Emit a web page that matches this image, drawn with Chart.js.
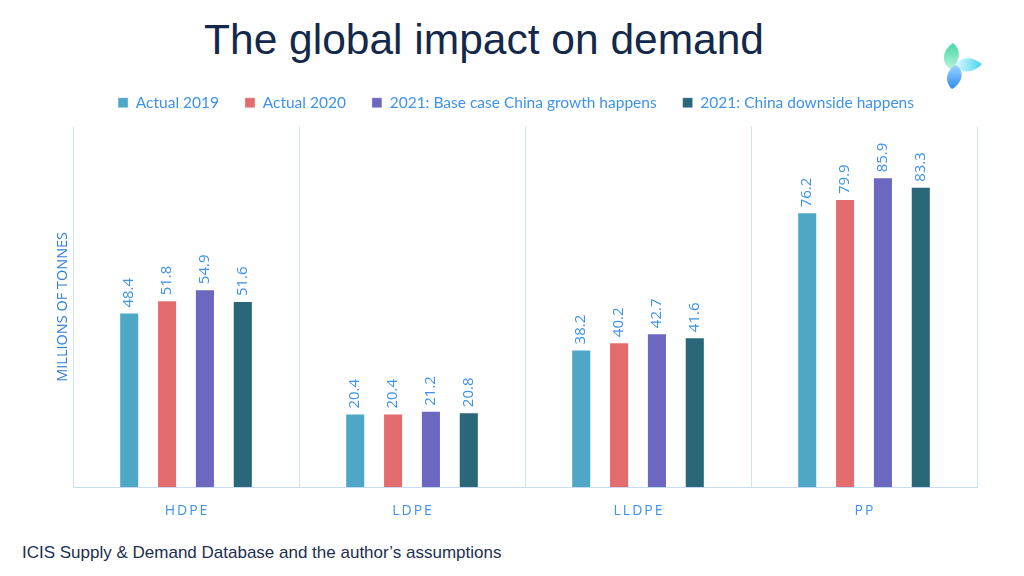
<!DOCTYPE html>
<html lang="en">
<head>
    <meta charset="UTF-8">
    <title>The global impact on demand</title>
    <style>
        body { margin: 0; background: #fff; }
        #app { position: relative; width: 1024px; height: 576px; overflow: hidden; font-family: "Liberation Sans", Arial, sans-serif; }
        .header { position: absolute; left: 0; width: 968px; top: 16px; text-align: center; font-size: 42.5px; color: #14284b; }
        .logo { position: absolute; left: 930px; top: 32px; }
        .source { position: absolute; left: 22px; top: 543px; font-size: 17px; color: #1c2f4f; }
        .chart { position: absolute; left: 0; top: 62px; width: 1024px; height: 474px; }
    </style>
</head>
<body>
    <div id="app">
        <div class="header">The global impact on demand</div>
        <svg class="logo" width="60" height="60" viewBox="0 0 60 60">
            <defs>
                <linearGradient id="g1" x1="0" y1="0" x2="0" y2="1">
                    <stop offset="0" stop-color="#2fd39a"/><stop offset="1" stop-color="#b6f2dc"/>
                </linearGradient>
                <linearGradient id="g2" x1="0" y1="0" x2="1" y2="0">
                    <stop offset="0" stop-color="#e6fbff"/><stop offset="1" stop-color="#2fd0f0"/>
                </linearGradient>
                <linearGradient id="g3" x1="0" y1="0" x2="0" y2="1">
                    <stop offset="0" stop-color="#8fd0ff"/><stop offset="1" stop-color="#1a7df0"/>
                </linearGradient>
            </defs>
            <path d="M23 11 C10 20 12 33 22 38 C30 28 32 18 23 11 Z" fill="url(#g1)" opacity="0.9"/>
            <path d="M52 32 C40 22 27 26 24 36 C34 42 45 40 52 32 Z" fill="url(#g2)" opacity="0.9"/>
            <path d="M22 57 C34 50 34 38 26 33 C16 38 14 50 22 57 Z" fill="url(#g3)" opacity="0.9"/>
        </svg>
        <div class="chart">
            <canvas id="bar_chart"></canvas>
        </div>
        <div class="source">ICIS Supply &amp; Demand Database and the author’s assumptions</div>
    </div>

    <script src="https://cdn.jsdelivr.net/npm/chart.js"></script>

    <script>
        // data
        var categories = ['HDPE', 'LDPE', 'LLDPE', 'PP'];
        var series_names = ['Actual 2019', 'Actual 2020', '2021: Base case China growth happens', '2021: China downside happens'];
        var actual_2019 = [48.4, 20.4, 38.2, 76.2];
        var actual_2020 = [51.8, 20.4, 40.2, 79.9];
        var base_2021 = [54.9, 21.2, 42.7, 85.9];
        var downside_2021 = [51.6, 20.8, 41.6, 83.3];

        var series_values = [actual_2019, actual_2020, base_2021, downside_2021];
        var series_colors = ['#4ea7c6', '#e36c6e', '#6c68c0', '#2a6779'];
        var label_blue = '#3d92ee';

        var datasets = [];
        for (var i = 0; i < series_names.length; i++) {
            datasets.push({
                label: series_names[i],
                data: series_values[i],
                backgroundColor: series_colors[i],
                borderWidth: 1,
                borderColor: 'rgba(255,255,255,0.35)',
                categoryPercentage: 0.67,
                barPercentage: 0.53
            });
        }

        // more room under the legend, and the legend nudged a little left
        var legend_gap = {
            id: 'legend_gap',
            beforeInit: function (chart) {
                var fit = chart.legend.fit;
                chart.legend.fit = function () {
                    fit.bind(chart.legend)();
                    this.height += 6;
                };
            },
            afterLayout: function (chart) {
                chart.legend.left -= 9;
                chart.legend.right -= 9;
            }
        };

        // value labels rotated above each bar, category names with letter spacing,
        // and the y axis title
        var bar_labels = {
            id: 'bar_labels',
            afterDatasetsDraw: function (chart) {
                var ctx = chart.ctx;
                var area = chart.chartArea;
                ctx.save();
                ctx.font = '15px "Open Sans", sans-serif';
                ctx.fillStyle = label_blue;
                ctx.textAlign = 'left';
                ctx.textBaseline = 'middle';
                chart.data.datasets.forEach(function (ds, di) {
                    chart.getDatasetMeta(di).data.forEach(function (bar, j) {
                        ctx.save();
                        ctx.translate(bar.x, bar.y - 5);
                        ctx.rotate(-Math.PI / 2);
                        ctx.fillText(ds.data[j].toFixed(1), 0, 0);
                        ctx.restore();
                    });
                });

                ctx.save();
                ctx.fillStyle = '#2f7fd8';
                ctx.font = '14.5px "Open Sans", sans-serif';
                ctx.textAlign = 'center';
                ctx.translate(area.left - 10, (area.top + area.bottom) / 2);
                ctx.rotate(-Math.PI / 2);
                ctx.fillText('MILLIONS OF TONNES', 0, 0);
                ctx.restore();

                var xs = chart.scales.x;
                ctx.font = '14px "Open Sans", sans-serif';
                ctx.letterSpacing = '2px';
                ctx.textAlign = 'center';
                categories.forEach(function (c, k) {
                    ctx.fillText(c, xs.getPixelForTick(k) + 1, xs.top + 24);
                });
                ctx.restore();
            }
        };

        new Chart(document.getElementById('bar_chart'), {
            type: 'bar',
            data: { labels: categories, datasets: datasets },
            plugins: [legend_gap, bar_labels],
            options: {
                responsive: true,
                maintainAspectRatio: false,
                animation: false,
                layout: { padding: { left: 73, right: 47, top: 7, bottom: 0 } },
                plugins: {
                    tooltip: { enabled: false },
                    legend: {
                        position: 'top',
                        labels: {
                            boxWidth: 10,
                            boxHeight: 10,
                            padding: 26,
                            color: label_blue,
                            font: { family: 'Lato', size: 15.5 }
                        }
                    }
                },
                scales: {
                    x: {
                        grid: { color: '#cfe2f8', drawTicks: false },
                        border: { color: '#c6dcf5' },
                        ticks: { color: 'rgba(0,0,0,0)', padding: 16, font: { family: '"Open Sans"', size: 14 } }
                    },
                    y: {
                        display: false,
                        min: 0,
                        max: 100
                    }
                }
            }
        });
    </script>
</body>
</html>
